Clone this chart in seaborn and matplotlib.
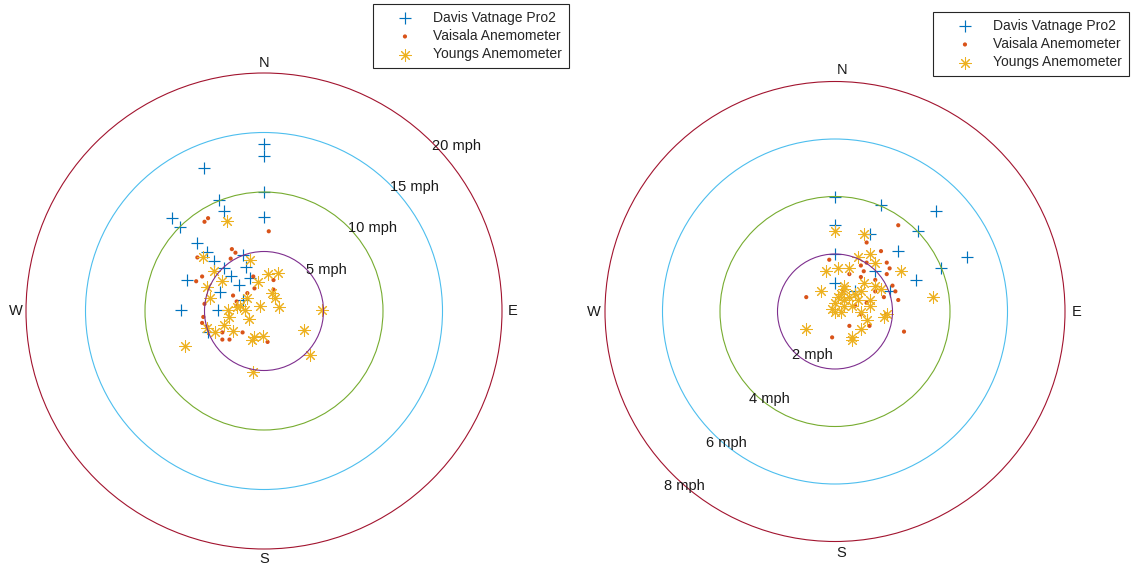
import numpy as np
import pandas as pd
import matplotlib
matplotlib.use("Agg")
import matplotlib.pyplot as plt
from matplotlib.patches import Circle
import seaborn as sns

# ---------------- wind vectors (east / north components, mph) ----------------
# Left panel
left_davis_east = [0.0, 0.0, -5.0, 0.0, -3.8, -3.4, 0.0, -7.7, -7.1, -5.6, -4.8, -4.2,
                   -1.8, -3.4, -1.5, -6.5, -2.8, -2.1, -1.2, -3.7, -1.8, -3.9, -7.0, -4.7]
left_davis_north = [14.0, 13.0, 12.0, 10.0, 9.3, 8.4, 7.9, 7.8, 7.1, 5.7, 5.0, 4.2,
                    4.7, 3.6, 3.7, 2.6, 2.9, 2.2, 2.8, 1.6, 0.9, 0.1, 0.1, -1.8]

left_vaisala_east = [-4.7, -5.0, 0.4, -2.7, -2.4, -5.6, -2.8, -5.2, -5.7, -0.9, -0.8, 0.8, -1.4,
                     0.8, -2.6, -2.3, -5.0, -5.1, -5.2, -3.5, -2.9, -1.8, 0.3, -3.5, -4.8, -2.3]
left_vaisala_north = [7.8, 7.5, 6.7, 5.2, 4.9, 4.5, 4.4, 2.9, 2.5, 2.9, 1.9, 2.6, 1.5,
                      1.8, 1.3, 0.8, 0.6, -0.5, -1.0, -1.8, -2.4, -1.8, -2.6, -2.4, -1.3, 0.4]

left_youngs_east = [-3.1, -5.1, -1.2, -4.2, -3.5, 0.3, 1.2, -0.5, -4.8, -4.5, -1.4, 0.7, 0.9,
                    -0.3, 1.3, -2.3, -3.0, -1.6, -1.3, -2.9, -3.4, -4.8, -4.1, -2.6, -1.0,
                    -0.8, -0.1, 3.4, 4.9, -6.6, 3.9, -0.9, -2.0]
left_youngs_north = [7.6, 4.5, 4.3, 3.4, 2.5, 3.1, 3.2, 2.4, 2.0, 1.1, 1.1, 1.5, 1.1,
                     0.4, 0.3, 0.3, 0.1, 0.1, -0.7, -0.5, -1.2, -1.4, -1.8, -1.7, -2.4,
                     -2.2, -2.1, -1.6, 0.1, -2.9, -3.7, -5.1, 0.4]

# Right panel
right_davis_east = [0.0, 1.6, 3.5, 0.0, 1.2, 2.9, 2.2, 4.6, 0.0, 3.7, 1.4, 2.8, 0.0, 0.7, 1.9]
right_davis_north = [4.0, 3.7, 3.5, 3.0, 2.7, 2.8, 2.1, 1.9, 2.0, 1.5, 1.4, 1.1, 1.0, 0.7, 0.7]

right_vaisala_east = [2.2, 1.1, 1.6, -0.2, 0.9, 1.1, 1.8, 1.9, 0.5, 1.0, 0.9, 1.8, 2.0, 2.1,
                      2.2, -1.0, 1.7, 1.1, 0.9, 0.5, 1.2, 2.4, -0.1, 1.8, 1.4, 0.3, 0.7, 1.4]
right_vaisala_north = [3.0, 2.4, 2.1, 1.8, 1.6, 1.7, 1.7, 1.5, 1.3, 1.4, 1.2, 1.3, 0.9, 0.7,
                       0.4, 0.5, 0.5, 0.3, -0.1, -0.5, -0.5, -0.7, -0.9, -0.1, 0.7, 0.7, 0.2, 1.1]

right_youngs_east = [0.0, 1.0, 1.2, 1.4, 0.8, 0.1, 0.5, 2.3, -0.5, 1.0, 1.6, 0.3, 0.1, 0.3,
                     0.0, 0.3, 0.9, 1.2, 1.7, 1.8, 3.4, -1.0, 0.9, 0.6, 0.6, 0.0, 1.2, 0.2,
                     0.5, 0.2, 0.6, -0.1, 0.3, 0.7, 0.8, 0.9, 1.1, 1.4, -0.3]
right_youngs_north = [2.8, 2.7, 2.0, 1.7, 1.9, 1.5, 1.5, 1.4, 0.7, 1.0, 0.8, 0.8, 0.5, 0.4,
                      0.0, 0.2, 0.0, 0.2, -0.2, -0.1, 0.5, -0.6, -0.6, -0.9, -1.0, 0.3, 0.4, 0.6,
                      0.5, 0.0, 0.2, 0.1, 0.9, 0.6, 0.4, 0.7, -0.3, 0.9, 1.4]

sensor_names = ["Davis Vatnage Pro2", "Vaisala Anemometer", "Youngs Anemometer"]
left_rings = [5, 10, 15, 20]
right_rings = [2, 4, 6, 8]
compass = ["N", "E", "S", "W"]

# ---------------- styling ----------------
sns.set_style("white")
plt.rcParams["font.family"] = ["Liberation Sans", "DejaVu Sans"]

RING_COLORS = ["#7E2F8E", "#77AC30", "#4DBEEE", "#A2142F"]
SENSOR_STYLE = {
    "Davis Vatnage Pro2": dict(marker="+", s=65, color="#0072BD", linewidth=0.85),
    "Vaisala Anemometer": dict(marker="o", s=9, color="#D95319", linewidth=0, edgecolor="none"),
    "Youngs Anemometer": dict(marker=(8, 2, 0), s=68, color="#EDB120", linewidth=0.75),
}
TEXT_COLOR = "#1a1a1a"
FS = 10

W, H, DPI = 1136, 571, 100
fig = plt.figure(figsize=(W / DPI, H / DPI), dpi=DPI)
fig.patch.set_facecolor("white")


def make_axes(cx, cy, px_per_mph, half):
    size = 2 * half * px_per_mph
    rect = [(cx - size / 2) / W, (H - cy - size / 2) / H, size / W, size / H]
    ax = fig.add_axes(rect)
    ax.set_xlim(-half, half)
    ax.set_ylim(-half, half)
    ax.axis("off")
    return ax


def build_frame(east_lists, north_lists):
    parts = []
    for name, e, n in zip(sensor_names, east_lists, north_lists):
        parts.append(pd.DataFrame({"east": e, "north": n, "sensor": name}))
    return pd.concat(parts, ignore_index=True)


def draw_panel(ax, df, rings, label_dir, label_k, compass_k, n_shift, legend_xy):
    for i, name in enumerate(sensor_names):
        sub = df[df["sensor"] == name]
        sns.scatterplot(data=sub, x="east", y="north", ax=ax, label=name,
                        zorder=2 + i, **SENSOR_STYLE[name])
    for r, c in zip(rings, RING_COLORS):
        ax.add_patch(Circle((0, 0), r, fill=False, ec=c, lw=0.8, zorder=6))
        ax.text(label_dir[0] * label_k[0] * r, label_dir[1] * label_k[1] * r, f"{r} mph",
                ha="left", va="center", fontsize=FS + 0.5, color=TEXT_COLOR, zorder=7)
    R = rings[-1] * compass_k
    pos = {"N": (n_shift, R), "E": (R, 0), "S": (n_shift, -R), "W": (-R, 0)}
    for lab in compass:
        ax.text(*pos[lab], lab, ha="center", va="center", fontsize=FS + 0.5,
                color=TEXT_COLOR)
    leg = ax.legend(loc="upper left", bbox_to_anchor=(legend_xy[0] / W, 1 - legend_xy[1] / H),
                    bbox_transform=fig.transFigure, borderaxespad=0, fontsize=FS,
                    frameon=True, fancybox=False, framealpha=1, edgecolor="#262626",
                    handlelength=3.6, handletextpad=0.2, borderpad=0.5, labelspacing=0.3)
    leg.get_frame().set_linewidth(0.8)


ax_left = make_axes(264, 311, 11.9, 22)
ax_right = make_axes(835, 311.5, 28.75, 9)

df_left = build_frame([left_davis_east, left_vaisala_east, left_youngs_east],
                      [left_davis_north, left_vaisala_north, left_youngs_north])
df_right = build_frame([right_davis_east, right_vaisala_east, right_youngs_east],
                       [right_davis_north, right_vaisala_north, right_youngs_north])

draw_panel(ax_left, df_left, left_rings, (1, 1), (0.707, 0.695), 1.043, 0.0, (373, 4))
draw_panel(ax_right, df_right, right_rings, (-1, -1), (0.745, 0.76), 1.05, 0.23, (933, 12))

fig.savefig("out.png", dpi=DPI, facecolor="white")
